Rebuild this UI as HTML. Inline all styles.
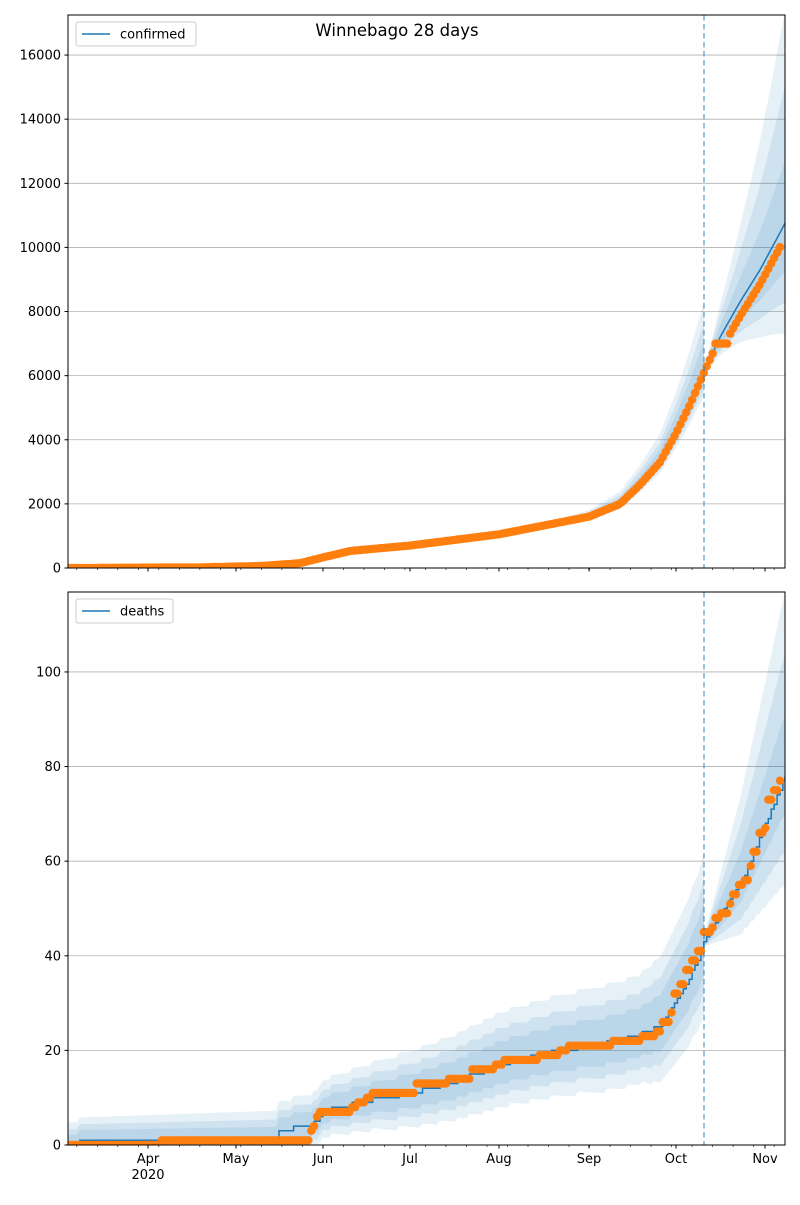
<!DOCTYPE html>
<html><head><meta charset="utf-8"><style>
body{margin:0;background:#fff;}
svg text{font-family:"DejaVu Sans","Liberation Sans",sans-serif;font-size:13px;fill:#000;}
</style></head><body>
<svg id="s" width="800" height="1200" xmlns="http://www.w3.org/2000/svg"></svg>
<script>
const S=document.getElementById('s');
let h='';
const X0=68,X1=785,DX=2.93,FC=704;
function interp(p,x){if(x<=p[0][0])return p[0][1];for(let i=1;i<p.length;i++){if(x<=p[i][0]){const a=p[i-1],b=p[i];return a[1]+(b[1]-a[1])*(x-a[0])/(b[0]-a[0]);}}return p[p.length-1][1];}
function stepv(p,x){let v=p[0][1];for(const q of p){if(x>=q[0])v=q[1];}return v;}
function drawPanel(top,bot,vmax,tickStep,tickMax,center,orangeFn,bandFn,step,legend,showXLabels){
  const Y=v=>bot-(v/vmax)*(bot-top);
  h+=`<defs><clipPath id="c${top}"><rect x="${X0}" y="${top}" width="${X1-X0}" height="${bot-top}"/></clipPath></defs>`;
  for(let v=0;v<=tickMax;v+=tickStep){const y=Y(v);if(v>0)h+=`<line x1="${X0}" x2="${X1}" y1="${y}" y2="${y}" stroke="#b0b0b0" stroke-width="0.8"/>`;
    h+=`<line x1="${X0-3.5}" x2="${X0}" y1="${y}" y2="${y}" stroke="#000"/><text x="${X0-7}" y="${y+4.5}" text-anchor="end">${v}</text>`;}
  h+=`<g clip-path="url(#c${top})">`;
  // two segments: before and after forecast
  const segs=[[],[]];
  for(let x=X0;x<FC;x+=DX)segs[0].push(x);segs[0].push(FC);
  for(let x=FC;x<X1;x+=DX)segs[1].push(x);segs[1].push(X1);
  segs.forEach((xs,si)=>{
  for(let l=3;l>=1;l--){
    let up='',dn='';
    xs.forEach((x,i)=>{const c=center(x);const b=bandFn(x,c,l,si);up+=(i?'L':'M')+x.toFixed(1)+','+Y(b[1]).toFixed(1);});
    for(let i=xs.length-1;i>=0;i--){const x=xs[i];const c=center(x);const b=bandFn(x,c,l,si);dn+='L'+x.toFixed(1)+','+Y(Math.max(0,b[0])).toFixed(1);}
    h+=`<path d="${up+dn}Z" fill="#1f77b4" fill-opacity="0.11"/>`;
  }});
  const xs=[];for(let x=X0;x<=X1+DX;x+=DX)xs.push(Math.min(x,X1));
  let d='';xs.forEach((x,i)=>{const c=center(x);const y=Y(c).toFixed(1);if(step&&i)d+='L'+x.toFixed(1)+','+Y(center(xs[i-1])).toFixed(1);d+=(i?'L':'M')+x.toFixed(1)+','+y;});
  h+=`<path d="${d}" fill="none" stroke="#1f77b4" stroke-width="1.5"/>`;
  for(let x=X0;x<=781;x+=DX){h+=`<circle cx="${x.toFixed(1)}" cy="${Y(orangeFn(x)).toFixed(1)}" r="4.2" fill="#ff7f0e"/>`;}
  h+=`</g>`;
  h+=`<line x1="${FC}" x2="${FC}" y1="${top}" y2="${bot}" stroke="#1f77b4" stroke-opacity="0.6" stroke-width="1.5" stroke-dasharray="5.5,3.5"/>`;
  h+=`<rect x="${X0}" y="${top}" width="${X1-X0}" height="${bot-top}" fill="none" stroke="#000" stroke-width="1"/>`;
  const months=[[148,'Apr'],[236,'May'],[323,'Jun'],[410,'Jul'],[499,'Aug'],[589,'Sep'],[676,'Oct'],[765,'Nov']];
  for(let x=X0+DX*3;x<X1;x+=DX*7)h+=`<line x1="${x}" x2="${x}" y1="${bot}" y2="${bot+2}" stroke="#000" stroke-width="0.6"/>`;
  months.forEach(m=>{h+=`<line x1="${m[0]}" x2="${m[0]}" y1="${bot}" y2="${bot+3.5}" stroke="#000"/>`;if(showXLabels)h+=`<text x="${m[0]}" y="${bot+18}" text-anchor="middle">${m[1]}</text>`;});
  if(showXLabels)h+=`<text x="148" y="${bot+34}" text-anchor="middle">2020</text>`;
  const lw=legend=='confirmed'?120:97;
  h+=`<rect x="76" y="${top+7}" width="${lw}" height="24" rx="2" fill="#fff" fill-opacity="0.8" stroke="#ccc"/><line x1="82" x2="110" y1="${top+19}" y2="${top+19}" stroke="#1f77b4" stroke-width="1.5"/><text x="120" y="${top+23.5}">${legend}</text>`;
}
const clamp=t=>Math.max(0,Math.min(1,t));
// confirmed
const cC=[[68,0],[200,20],[260,60],[300,150],[323,330],[350,530],[410,700],[499,1050],[589,1600],[620,2000],[640,2600],[660,3300],[676,4200],[690,5100],[704,6100],[720,7200],[740,8300],[760,9300],[785,10750]];
const cO=x=>{if(x>=714&&x<728)return 7000;if(x>=728)return interp(cC,x)-450;return interp(cC,x);};
const F=[0.45,0.7,1];
const cB=(x,c,l,si)=>{
  if(si==0){const t=clamp((x-560)/(FC-560));const f=F[l-1];return [c-(c*(0.05+0.07*t)+15)*f,c+(c*(0.06+0.3*t)+15)*f];}
  const t=(x-FC)/(X1-FC);const up=[0.16,0.38,0.6][l-1],dn=[0.12,0.21,0.30][l-1];
  return [c*(1-(0.02+dn*t)),c*(1+(0.02+up*t))];};
drawPanel(15,568,17250,2000,16000,x=>interp(cC,x),cO,cB,false,'confirmed',false);
// deaths
const dC=[[68,0],[86,1],[275,1],[280,3],[305,4],[318,5],[322,7],[360,9],[410,11],[450,13],[500,17],[560,20],[620,22],[660,25],[676,30],[700,40],[704,43],[740,55],[785,78]];
const dO=[[68,0],[160,1],[310,3],[313,4],[316,6],[319,7],[350,8],[357,9],[365,10],[372,11],[415,13],[447,14],[472,16],[495,17],[503,18],[537,19],[560,20],[568,21],[612,22],[640,23],[656,24],[660,26],[670,28],[674,32],[680,34],[686,37],[692,39],[697,41],[703,45],[710,46],[713,48],[720,49],[728,51],[732,53],[738,55],[744,56],[749,59],[753,62],[758,66],[764,67],[768,73],[772,75],[778,77]];
const dW=[[68,4.3],[323,6],[499,10],[640,11.5],[704,17]];
const dB=(x,c,l,si)=>{
  if(si==0){const w=interp(dW,x)*F[l-1];return [c-w*0.9,c+w*1.1];}
  const t=(x-FC)/(X1-FC);const up=[12,25,38][l-1],dn=[7,15,22][l-1];
  return [c-(1+dn*t),c+(1+up*t)];};
drawPanel(592,1145,116.9,20,100,x=>Math.round(interp(dC,x)),x=>stepv(dO,x),dB,true,'deaths',true);
h+=`<text x="397" y="36" text-anchor="middle" style="font-size:16.5px">Winnebago 28 days</text>`;
S.innerHTML=h;
</script>
</body></html>
